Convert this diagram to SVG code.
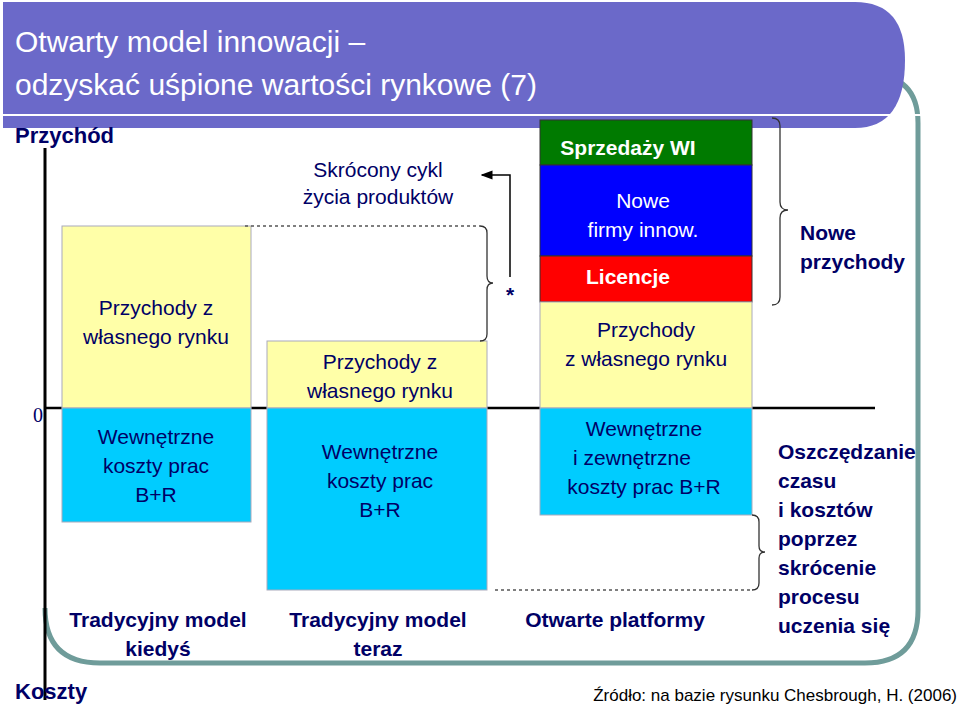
<svg xmlns="http://www.w3.org/2000/svg" width="960" height="706" viewBox="0 0 960 706">
<style>
text{font-family:"Liberation Sans",Arial,sans-serif;fill:#000066}
.b{font-size:21px;text-anchor:middle}
.bold{font-weight:bold}
.w{fill:#fff}
.y{fill:#FFFFA8;stroke:#aab;stroke-width:1}
.c{fill:#00CCFF;stroke:#aab;stroke-width:1}
.dot{stroke:#555;stroke-width:1.5;stroke-dasharray:3 3;fill:none}
.br{stroke:#333;stroke-width:1.3;fill:none}
</style>
<defs><marker id="ah" markerWidth="8" markerHeight="8" refX="7" refY="4" orient="auto"><path d="M0,1 L8,4 L0,7 Z" fill="#000"/></marker></defs>
<rect width="960" height="706" fill="#fff"/>
<g id="frame">
<path d="M45,75 H870 Q918,75 918,123 V610 Q918,663 865,663 H100 Q45,663 45,608" fill="none" stroke="#6F9C9A" stroke-width="5"/>
<path d="M3,2 H855 Q905,2 905,60 Q905,128 855,128 H3 Z" fill="#6B69C9"/>
<line x1="3" y1="115" x2="933" y2="115" stroke="#fff" stroke-width="2"/>
<text x="15" y="52" class="w" font-size="30">Otwarty model innowacji –</text>
<text x="15" y="95" class="w" font-size="30">odzyskać uśpione wartości rynkowe (7)</text>
</g>
<g id="axes">
<line x1="45" y1="148" x2="45" y2="700" stroke="#000" stroke-width="3"/>
<line x1="45" y1="408" x2="875" y2="408" stroke="#000" stroke-width="2.5"/>
<text x="33" y="422" font-family="Liberation Serif" style="font-family:'Liberation Serif',serif" font-size="20">0</text>
<text x="15" y="143" class="bold" font-size="22">Przychód</text>
<text x="15" y="699" class="bold" font-size="22">Koszty</text>
</g>
<g id="box1">
<rect x="62" y="226" width="189" height="182" class="y"/>
<rect x="62" y="408" width="189" height="114" class="c"/>
<text x="156" y="315" class="b">Przychody z</text>
<text x="156" y="344" class="b">własnego rynku</text>
<text x="156" y="444" class="b">Wewnętrzne</text>
<text x="156" y="473" class="b">koszty prac</text>
<text x="156" y="502" class="b">B+R</text>
</g>
<g id="box2">
<rect x="267" y="341" width="220" height="67" class="y"/>
<rect x="267" y="408" width="220" height="182" class="c"/>
<text x="380" y="369" class="b">Przychody z</text>
<text x="380" y="398" class="b">własnego rynku</text>
<text x="380" y="459" class="b">Wewnętrzne</text>
<text x="380" y="488" class="b">koszty prac</text>
<text x="380" y="517" class="b">B+R</text>
</g>
<g id="box3">
<rect x="540" y="120" width="212" height="45" fill="#007A00" stroke="#333"/>
<rect x="540" y="165" width="212" height="91" fill="#0000FF" stroke="#333"/>
<rect x="540" y="256" width="212" height="46" fill="#FF0000" stroke="#333"/>
<rect x="540" y="302" width="212" height="106" class="y"/>
<rect x="540" y="408" width="212" height="107" class="c"/>
<text x="628" y="155" class="b bold w" font-size="21">Sprzedaży WI</text>
<text x="643" y="208" class="b w">Nowe</text>
<text x="643" y="237" class="b w">firmy innow.</text>
<text x="628" y="284" class="b bold w">Licencje</text>
<text x="646" y="337" class="b">Przychody</text>
<text x="646" y="366" class="b">z własnego rynku</text>
<text x="644" y="436" class="b">Wewnętrzne</text>
<text x="632" y="465" class="b">i zewnętrzne</text>
<text x="644" y="494" class="b">koszty prac B+R</text>
</g>
<g id="connectors">
<path d="M245,226 H480" class="dot"/>
<path d="M480,226 Q487,226 487,233 V276 Q487,283 493,283 Q487,283 487,290 V334 Q487,341 480,341" class="br"/>
<path d="M510,277 V175 H482" stroke="#000" stroke-width="1.5" fill="none" marker-end="url(#ah)"/>
<path d="M495,590 H752" class="dot"/>
<path d="M752,515 Q759,515 759,522 V546 Q759,552 765,552 Q759,552 759,558 V583 Q759,590 752,590" class="br"/>
<path d="M772,118 Q780,118 780,126 V202 Q780,210 788,210 Q780,210 780,218 V297 Q780,305 772,305" class="br"/>
</g>
<g id="labels">
<text x="510" y="302" class="b bold" font-size="24">*</text>
<text x="378" y="177" class="b">Skrócony cykl</text>
<text x="378" y="204" class="b">życia produktów</text>
<text x="800" y="240" class="bold" font-size="21">Nowe</text>
<text x="800" y="269" class="bold" font-size="21">przychody</text>
<text x="778" y="459" class="bold" font-size="21">Oszczędzanie</text>
<text x="778" y="488" class="bold" font-size="21">czasu</text>
<text x="778" y="517" class="bold" font-size="21">i kosztów</text>
<text x="778" y="546" class="bold" font-size="21">poprzez</text>
<text x="778" y="575" class="bold" font-size="21">skrócenie</text>
<text x="778" y="604" class="bold" font-size="21">procesu</text>
<text x="778" y="633" class="bold" font-size="21">uczenia się</text>
<text x="158" y="627" class="b bold">Tradycyjny model</text>
<text x="158" y="656" class="b bold">kiedyś</text>
<text x="378" y="627" class="b bold">Tradycyjny model</text>
<text x="378" y="656" class="b bold">teraz</text>
<text x="615" y="627" class="b bold">Otwarte platformy</text>
<text x="957" y="701" font-size="17" text-anchor="end" style="fill:#000">Źródło: na bazie rysunku Chesbrough, H. (2006)</text>
</g>
</svg>
